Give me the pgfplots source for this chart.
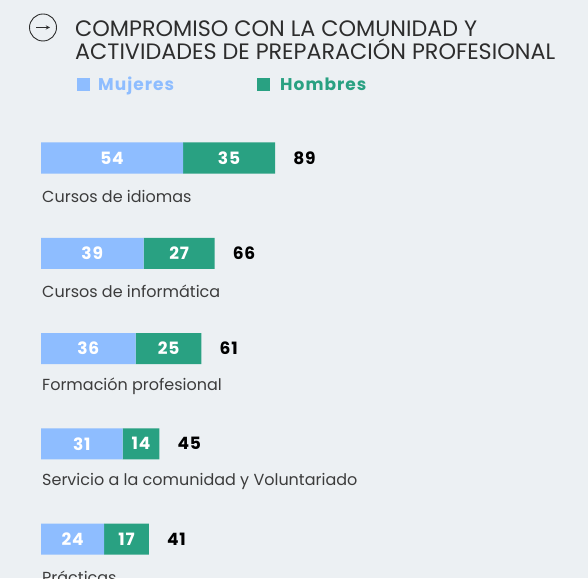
\documentclass[border=0pt]{standalone}
\usepackage{fontspec}
\setmainfont{Poppins}
\newfontfamily\spaced{Poppins}[LetterSpace=5]
\newfontfamily\legfont{Poppins}[LetterSpace=6]
\usepackage{pgfplots}
\pgfplotsset{compat=1.18}
\definecolor{bg}{RGB}{236,240,243}
\definecolor{mujer}{RGB}{142,189,255}
\definecolor{hombre}{RGB}{41,161,130}
\definecolor{titulo}{RGB}{45,45,45}
\definecolor{etiq}{RGB}{60,60,60}

\pgfplotsset{
  base/.style={scale only axis, width=526pt, height=476.25pt,
    xmin=0, xmax=200, ymin=-0.5, ymax=4.5, y dir=reverse,
    axis lines=none, at={(41pt,467.625pt)}, anchor=north west, clip=false},
}

\begin{document}
\begin{tikzpicture}[x=1pt,y=1pt]
  \path[use as bounding box] (0,0) rectangle (588,578);
  \clip (0,0) rectangle (588,578);
  \fill[bg] (0,0) rectangle (588,578);

  % titulo
  \draw[titulo, line width=0.9pt] (43,550.5) circle (13.5);
  \draw[titulo, line width=0.9pt, ->, >=stealth] (36,550.5) -- (50,550.5);
  \node[anchor=base west, inner sep=0, text=titulo,
        font=\fontsize{22.3}{22.3}\selectfont] at (75,541) {COMPROMISO CON LA COMUNIDAD Y};
  \node[anchor=base west, inner sep=0, text=titulo,
        font=\fontsize{22.3}{22.3}\selectfont] at (75,518) {ACTIVIDADES DE PREPARACIÓN PROFESIONAL};

  % leyenda
  \fill[mujer] (77,487) rectangle (90,500);
  \node[anchor=base west, inner sep=0, text=mujer, font=\legfont\bfseries\fontsize{17}{17}\selectfont] at (98,487) {Mujeres};
  \fill[hombre] (257,487) rectangle (270,500);
  \node[anchor=base west, inner sep=0, text=hombre, font=\legfont\bfseries\fontsize{17}{17}\selectfont] at (280,487) {Hombres};

  \begin{axis}[base, xbar stacked, bar width=31pt]
    \addplot[fill=mujer, draw=none] coordinates {(54,0) (39,1) (36,2) (31,3) (24,4)};
    \addplot[fill=hombre, draw=none] coordinates {(35,0) (27,1) (25,2) (14,3) (17,4)};
  \end{axis}

  \begin{axis}[base, point meta=explicit symbolic]
    % valores dentro de las barras
    \addplot[draw=none, mark=none, nodes near coords,
      nodes near coords style={anchor=center, text=white, font=\spaced\bfseries\fontsize{17}{17}\selectfont}]
      coordinates {(27,0) [54] (19.5,1) [39] (18,2) [36] (15.5,3) [31] (12,4) [24]
                   (71.5,0) [35] (52.5,1) [27] (48.5,2) [25] (38,3) [14] (32.5,4) [17]};
    % totales
    \addplot[draw=none, mark=none, nodes near coords,
      nodes near coords style={anchor=west, inner sep=0, xshift=18pt, text=black, font=\spaced\bfseries\fontsize{17}{17}\selectfont}]
      coordinates {(89,0) [89] (66,1) [66] (61,2) [61] (45,3) [45] (41,4) [41]};
    % categorias
    \addplot[draw=none, mark=none, nodes near coords,
      nodes near coords style={anchor=west, inner sep=0, xshift=1pt, yshift=-38pt, text=etiq, font=\fontsize{16}{16}\selectfont}]
      coordinates {(0,0) [Cursos de idiomas] (0,1) [Cursos de informática]
                   (0,2) [Formación profesional] (0,3) [Servicio a la comunidad y Voluntariado]
                   (0,4) [Prácticas]};
  \end{axis}
\end{tikzpicture}
\end{document}
